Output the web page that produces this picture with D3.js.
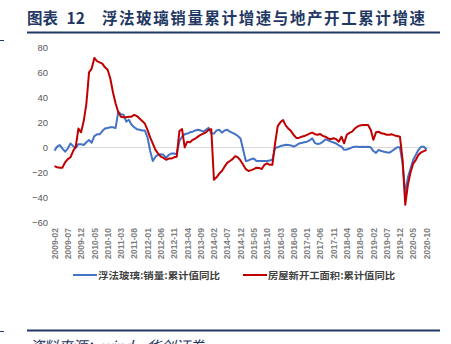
<!DOCTYPE html>
<html><head><meta charset="utf-8">
<script src="https://cdn.jsdelivr.net/npm/d3@7"></script>
<style>
html,body{margin:0;padding:0;background:#fff;overflow:hidden;}
svg{display:block;}
</style></head>
<body>
<svg id="c" width="451" height="344"></svg>
<script>
// ---- data ----
const titleLabel = "图表";
const titleNumber = "12";
const titleText = "浮法玻璃销量累计增速与地产开工累计增速";
const sourceText = "资料来源：wind，华创证券";
const seriesNames = ["浮法玻璃:销量:累计值同比", "房屋新开工面积:累计值同比"];
const yTicks = [-60, -40, -20, 0, 20, 40, 60, 80];

// months 2009-02 .. 2020-10
const months = [];
for (let y = 2009; y <= 2020; y++) {
  for (let m = 1; m <= 12; m++) {
    if (y === 2009 && m < 2) continue;
    if (y === 2020 && m > 10) continue;
    months.push(y + "-" + String(m).padStart(2, "0"));
  }
}
const xTickLabels = months.filter((d, i) => i % 5 === 0);

const glassSales = [
  -2.7, 0.5, 1.8, -1, -3.5, -1, 3, 1, -0.5, 2.5,
  2.5, 1.8, 4, 5.8, 3.7, 9, 10.4, 10.4, 13, 15,
  15.5, 16, 16, 15.5, 28.5, 26.5, 26, 20.5, 22, 18,
  16, 14.5, 14, 13.5, 13.5, 8, -3, -11, -7.5, -6,
  -5.5, -6, -8.5, -6, -5, -5, -5.5, 5, 8.5, 10.5,
  11, 12, 12.5, 13.5, 14, 13.5, 12.5, 14, 15.5, 11,
  11, 13.5, 14, 11.7, 13.5, 14, 12.5, 11.5, 10.5, 9,
  7, -2, -11, -10.5, -9.5, -9, -11, -11, -11, -11,
  -11, -10.5, -10, -0.5, 0, 1, 1.5, 2, 1.8, 1.5,
  0.5, 1.5, 3, 3.5, 4, 4.5, 5.5, 7.2, 3.5, 2.6,
  3, 4.5, 6.4, 5.5, 4.5, 3.8, 3, 1.5, 0.5, -2,
  -1.8, -1, 0, 0.5, 0.5, 0.2, 0.5, 0.2, 0.5, 0,
  -3, -4.5, -2, -3, -3.5, -4, -4.3, -3, -1.5, 0,
  0, -12.8, -37, -24, -17, -10, -6, -2, 0.5, 0.5,
  -1.6
];
const newStarts = [
  -15, -16, -16.3, -16.3, -12, -9.5, -8, -3, 0.5, 15,
  12, 21, 35, 60, 63, 71.5, 69, 68, 67, 64,
  62, 55, 44, 35, 28, 24.5, 24, 24, 24.5, 24.5,
  26, 25, 23, 21, 19, 14, 8, 3, -2, -5,
  -7.5, -8.5, -10, -9, -9, -8, -7.5, 13, 14.5, 0,
  4.5, 4, 6, 7, 8.5, 10, 11, 12, 14, 14.5,
  -26, -24, -21, -19, -15.5, -12.5, -11, -9.5, -7, -8,
  -10.5, -14, -17.5, -19, -18.3, -17.5, -16.3, -16.5, -17.4, -14,
  -12.8, -14, -14, 3, 17, 20, 21.8, 17.5, 15, 13,
  10, 7.5, 7.5, 8.5, 9, 10, 11, 11.7, 10.5, 10,
  10.6, 9, 8.5, 7, 6.4, 7.2, 6.5, 4.5, 8.5, 3.2,
  10, 11.5, 12.5, 15, 16.5, 17.5, 17.8, 17.8, 17.8, 14,
  6, 12, 12.5, 11.2, 10.8, 10, 10, 10.4, 9.5, 9,
  8.5, -10, -46, -30, -20, -13, -10, -6, -4, -3,
  -2
];
const seriesValues = [glassSales, newStarts];
const colors = ["#4472C4", "#C00000"];

// ---- drawing ----
const svg = d3.select("#c");
const navy = "#1F3864";
const cjk = "'Noto Sans CJK SC', sans-serif";

// header
svg.append("text").attr("x", 27).attr("y", 23.5)
  .attr("font-family", cjk).attr("font-weight", 700)
  .attr("font-size", 15.5).attr("fill", navy).text(titleLabel);
svg.append("text").attr("x", 66.5).attr("y", 23.5)
  .attr("font-family", cjk).attr("font-weight", 700)
  .attr("font-size", 15.5).attr("fill", navy).text(titleNumber);
svg.append("text").attr("x", 102).attr("y", 23.5)
  .attr("font-family", cjk).attr("font-weight", 700)
  .attr("font-size", 15.5).attr("fill", navy)
  .attr("textLength", 323).attr("lengthAdjust", "spacing").text(titleText);
svg.append("line").attr("x1", 27).attr("x2", 440).attr("y1", 32.5).attr("y2", 32.5)
  .attr("stroke", navy).attr("stroke-width", 1.8);
svg.append("line").attr("x1", 0).attr("x2", 4).attr("y1", 40.5).attr("y2", 40.5)
  .attr("stroke", navy).attr("stroke-width", 1);

// footer
svg.append("line").attr("x1", 27).attr("x2", 440).attr("y1", 330.5).attr("y2", 330.5)
  .attr("stroke", navy).attr("stroke-width", 1.8);
svg.append("line").attr("x1", 0).attr("x2", 4).attr("y1", 331.5).attr("y2", 331.5)
  .attr("stroke", navy).attr("stroke-width", 1);
svg.append("text").attr("x", 29).attr("y", 352)
  .attr("font-family", cjk).attr("font-style", "italic")
  .attr("font-size", 15).attr("fill", navy)
  .attr("textLength", 175).attr("lengthAdjust", "spacing").text(sourceText);

// scales
const x = d3.scalePoint().domain(months).range([54.5, 426.5]);
const y = d3.scaleLinear().domain([-60, 80]).range([222.3, 47.3]);

// zero line
svg.append("line").attr("x1", 54).attr("x2", 430)
  .attr("y1", Math.round(y(0)) + 0.5).attr("y2", Math.round(y(0)) + 0.5)
  .attr("stroke", "#D9D9D9").attr("stroke-width", 1);

// y axis
const yAxis = svg.append("g").attr("transform", "translate(48,0)")
  .call(d3.axisLeft(y).tickValues(yTicks).tickSize(0).tickPadding(0));
yAxis.select(".domain").remove();
yAxis.selectAll("text").attr("font-family", "Arial, 'Liberation Sans', sans-serif")
  .attr("font-size", 9.5).attr("fill", "#595959");

// x axis
const xAxis = svg.append("g").attr("transform", "translate(0,226)")
  .call(d3.axisBottom(x).tickValues(xTickLabels).tickSize(0).tickPadding(0));
xAxis.select(".domain").remove();
xAxis.selectAll("text")
  .attr("font-family", "Arial, 'Liberation Sans', sans-serif")
  .attr("font-size", 8.5).attr("font-weight", 700).attr("fill", "#7F7F7F")
  .attr("transform", "rotate(-90)")
  .attr("text-anchor", "end").attr("dy", "0.32em").attr("x", -2).attr("y", 0);

// lines
const line = d3.line().x((d, i) => x(months[i])).y(d => y(d));
seriesValues.forEach((vals, k) => {
  svg.append("path").datum(vals).attr("d", line)
    .attr("fill", "none").attr("stroke", colors[k]).attr("stroke-width", 2)
    .attr("stroke-linejoin", "round");
});

// legend
const legendX = [73, 243];
const legendW = [122, 127];
seriesNames.forEach((name, k) => {
  const g = svg.append("g");
  g.append("line").attr("x1", legendX[k]).attr("x2", legendX[k] + 24)
    .attr("y1", 275).attr("y2", 275).attr("stroke", colors[k]).attr("stroke-width", 2);
  g.append("text").attr("x", legendX[k] + 25).attr("y", 278.5)
    .attr("font-family", cjk).attr("font-weight", 700)
    .attr("font-size", 9.5).attr("fill", "#404040")
    .attr("textLength", legendW[k]).attr("lengthAdjust", "spacingAndGlyphs").text(name);
});
</script>
</body></html>
